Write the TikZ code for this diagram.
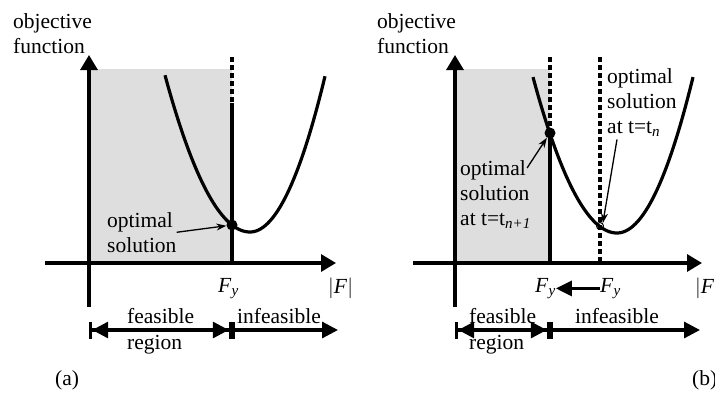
\documentclass[tikz,border=0pt]{standalone}
\usepackage{fontspec}
\setmainfont{Liberation Serif}
\usetikzlibrary{arrows.meta, positioning}
\definecolor{feasGray}{HTML}{DEDEDE}

\begin{document}
\begin{tikzpicture}[x=1pt, y=-1pt, font=\fontsize{21.5}{25}\selectfont,
    axis/.style={line width=3.2pt, -{Triangle[length=15pt,width=17pt]}},
    limit/.style={line width=3.2pt},
    limitdash/.style={line width=3.2pt, dash pattern=on 5pt off 3pt},
    curve/.style={line width=3.2pt},
    span/.style={line width=3.2pt},
    spanboth/.style={span, {Bar[width=17pt]Triangle[length=16pt,width=16pt]}-{Triangle[length=16pt,width=16pt]Bar[width=17pt]}},
    spanright/.style={span, {Bar[width=17pt]}-{Triangle[length=16pt,width=16pt]}},
    pointer/.style={line width=1.3pt, -{Stealth[length=10pt,width=7pt]}},
    lbl/.style={inner sep=0pt, align=left},
    dot/.style={circle, fill=black, inner sep=0pt, minimum size=11pt}]
  \useasboundingbox (0,0) rectangle (715,394);

  % (a)
  \fill[feasGray] (89,69) rectangle (232,263);
  \coordinate (yA0) at (89,307);
  \coordinate (yA1) at (89,55);
  \coordinate (xA0) at (45,263);
  \coordinate (xA1) at (336,263);
  \coordinate (limA0) at (232,57);
  \coordinate (limA1) at (232,103);
  \coordinate (limA2) at (232,263);
  \draw[axis] (yA0) -- (yA1);
  \draw[axis] (xA0) -- (xA1);
  \draw[limitdash] (limA0) -- (limA1);
  \draw[limit] (limA1) -- (limA2);
  \draw[curve] plot[domain=165:325, samples=90]
    (\x, {232 - (\x < 250 ? 0.0217 : 0.0277)*(\x-250)^2});
  \node[dot] (dotA) at (232,225) {};

  \node[lbl, anchor=north west] (objA) at (13,13) {objective\\function};
  \node[lbl, anchor=north west] (optA) at (107,212) {optimal\\solution};
  \draw[pointer] (optA.east) -- (dotA);
  \node[lbl, anchor=north west] (fyA) at (218,278) {\textit{F}\textsubscript{\textit{y}}};
  \node[lbl, anchor=north west] (fA) at (328,278) {$|$\textit{F}$|$};

  \coordinate (spA0) at (89,330);
  \coordinate (spA1) at (232,330);
  \coordinate (spA2) at (338,330);
  \draw[spanboth] (spA0) -- (spA1);
  \draw[spanright] (spA1) -- (spA2);
  \node[lbl, anchor=north west, font=\fontsize{21.5}{26}\selectfont] (feasA) at (127,308) {feasible\\region};
  \node[lbl, anchor=north] (infeasA) at (279,308) {infeasible};
  \node[lbl, anchor=north west] (capA) at (55,370) {(a)};

  % (b)
  \fill[feasGray] (455,69) rectangle (550,263);
  \coordinate (yB0) at (455,307);
  \coordinate (yB1) at (455,55);
  \coordinate (xB0) at (413,263);
  \coordinate (xB1) at (702,263);
  \coordinate (limB0) at (550,57);
  \coordinate (limB1) at (550,133);
  \coordinate (limB2) at (550,263);
  \coordinate (oldB0) at (600,57);
  \coordinate (oldB1) at (600,263);
  \draw[axis] (yB0) -- (yB1);
  \draw[axis] (xB0) -- (xB1);
  \draw[limitdash] (limB0) -- (limB1);
  \draw[limit] (limB1) -- (limB2);
  \draw[limitdash] (oldB0) -- (oldB1);
  \draw[curve] plot[domain=533:693, samples=90]
    (\x, {233 - (\x < 617 ? 0.0221 : 0.027)*(\x-617)^2});
  \node[dot] (dotB) at (550,133) {};
  \node[circle, draw, line width=1pt, minimum size=7pt, inner sep=0pt] (oldB) at (600,226) {};

  \node[lbl, anchor=north west] (objB) at (377,13) {objective\\function};
  \node[lbl, anchor=north west] (optN) at (607,68) {optimal\\solution\\at t=t\textsubscript{\textit{n}}};
  \node[lbl, anchor=north west] (optB) at (460,160) {optimal\\solution\\at t=t\textsubscript{\textit{n+1}}};
  \draw[pointer] ([xshift=-4pt, yshift=-8pt]optB.north east) -- (dotB);
  \draw[pointer] ([xshift=10pt, yshift=-3pt]optN.south west) -- (oldB.north east);
  \node[lbl, anchor=north west] (fyB) at (535,278) {\textit{F}\textsubscript{\textit{y}}};
  \node[lbl, anchor=north west] (fyN) at (600,278) {\textit{F}\textsubscript{\textit{y}}};
  \draw[span, -{Triangle[length=16pt,width=15pt]}] (fyN.west) -- (fyB.east);
  \node[lbl, anchor=north west] (fB) at (695,278) {$|$\textit{F}$|$};

  \coordinate (spB0) at (455,330);
  \coordinate (spB1) at (550,330);
  \coordinate (spB2) at (700,330);
  \draw[spanboth] (spB0) -- (spB1);
  \draw[spanright] (spB1) -- (spB2);
  \node[lbl, anchor=north west, font=\fontsize{21.5}{26}\selectfont] (feasB) at (469,308) {feasible\\region};
  \node[lbl, anchor=north] (infeasB) at (617,308) {infeasible};
  \node[lbl, anchor=north west] (capB) at (692,370) {(b)};
\end{tikzpicture}
\end{document}
